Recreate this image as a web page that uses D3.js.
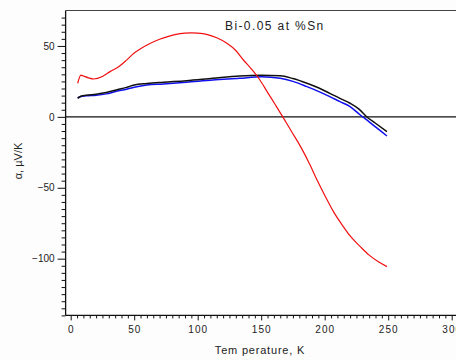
<!DOCTYPE html>
<html><head><meta charset="utf-8">
<script src="https://cdn.jsdelivr.net/npm/d3@7"></script>
<style>
html,body{margin:0;padding:0;background:#fdfdfd;}
svg{display:block;}
text{font-family:"Liberation Sans",Arial,sans-serif;}
</style></head>
<body><svg id="c" width="456" height="360"></svg>
<script>
const redT = [5.5, 8, 10, 14, 18, 25, 31, 38, 44, 50, 55, 62, 70, 77, 83, 90, 95, 100, 107, 115, 123, 130, 136, 142, 149, 155, 161, 167, 174, 181, 188, 194, 201, 207, 214, 220, 228, 235, 242, 249];
const redV = [23.7, 29.5, 28.8, 27.5, 26.7, 28.5, 31.9, 35.5, 40, 45, 48, 51.5, 54.7, 56.8, 58.2, 59, 59.2, 59, 58.2, 55.8, 51.9, 46.8, 40.1, 34, 26, 17.3, 8.7, 0, -10.5, -21, -33, -44.5, -57, -67, -76.5, -84, -91.5, -97.5, -102, -105.6];
const blackT = [5.5, 8, 12, 20, 28, 36, 44, 50, 60, 73, 91, 112, 133, 150, 165, 175, 186, 195, 204, 212, 220, 227, 233, 240, 249];
const blackV = [13.1, 14.5, 15.2, 16, 17.2, 19, 20.8, 22.5, 23.5, 24.4, 25.5, 27.2, 28.8, 29.3, 29, 27, 23.7, 20.5, 16.6, 13, 9.6, 5.5, 0.1, -4.5, -10.4];
const blueT = [5.5, 8, 12, 20, 28, 36, 44, 50, 60, 73, 91, 112, 133, 150, 165, 175, 186, 195, 204, 212, 220, 228, 235, 242, 249];
const blueV = [13.5, 14.3, 14.8, 15.2, 16.2, 18, 19.5, 20.9, 22.5, 23.2, 24.4, 26, 27.2, 28.3, 27.2, 25, 21.3, 18, 14.3, 10.7, 7.2, 1.3, -3.5, -8.5, -13.5];
const xMajor = [0, 50, 100, 150, 200, 250, 300];
const yMajor = [50, 0, -50, -100];
const titleText = "Bi-0.05 at %Sn";
const xTitle = "Tem perature, K";
const yTitle = "α, µV/K";

const svg = d3.select("#c");
const x = d3.scaleLinear().domain([0, 300]).range([70.7, 451.7]);
const y = d3.scaleLinear().domain([-140, 75]).range([315.4, 10.5]);
const xL = x(-4), xR = 456, yB = y(-140), yT = y(75);

svg.append("rect").attr("x", xL).attr("y", yT).attr("width", xR - xL).attr("height", yB - yT).attr("fill", "#fff");

const xMinor = d3.range(0, 305, 5).filter(v => v % 50 !== 0);
const yMinor = d3.range(-140, 75, 5).filter(v => v % 50 !== 0);

const gx = svg.append("g").attr("transform", `translate(0,${yB})`);
gx.call(d3.axisBottom(x).tickValues(xMinor).tickSize(3).tickFormat(""));
gx.select(".domain").remove();
const gx2 = svg.append("g").attr("transform", `translate(0,${yB})`);
gx2.call(d3.axisBottom(x).tickValues(xMajor).tickSize(5).tickPadding(6).tickFormat(d3.format("d")));
gx2.select(".domain").remove();
gx2.selectAll("text").attr("font-size", 10).attr("fill", "#222").style("letter-spacing", "1px");

const gy = svg.append("g").attr("transform", `translate(${xL},0)`);
gy.call(d3.axisLeft(y).tickValues(yMinor).tickSize(4).tickFormat(""));
gy.select(".domain").remove();
const gy2 = svg.append("g").attr("transform", `translate(${xL},0)`);
gy2.call(d3.axisLeft(y).tickValues(yMajor).tickSize(8).tickPadding(3).tickFormat(d3.format("d")));
gy2.select(".domain").remove();
gy2.selectAll("text").attr("font-size", 10).attr("fill", "#222");
svg.selectAll(".tick line").attr("stroke", "#111");

svg.append("line").attr("x1", xL).attr("x2", xR).attr("y1", yB).attr("y2", yB).attr("stroke", "#111").attr("stroke-width", 1.3);
svg.append("line").attr("x1", xL).attr("x2", xL).attr("y1", yT).attr("y2", yB).attr("stroke", "#111").attr("stroke-width", 1.3);
svg.append("line").attr("x1", xL).attr("x2", xR).attr("y1", yT).attr("y2", yT).attr("stroke", "#444").attr("stroke-width", 1);
svg.append("line").attr("x1", xL).attr("x2", xR).attr("y1", y(0)).attr("y2", y(0)).attr("stroke", "#111").attr("stroke-width", 1.2);

const line = d3.line().curve(d3.curveMonotoneX).x(d => x(d[0])).y(d => y(d[1]));
const mk = (T, V) => T.map((t, i) => [t, V[i]]);
svg.append("path").datum(mk(blueT, blueV)).attr("d", line).attr("fill", "none").attr("stroke", "#1010ee").attr("stroke-width", 1.5);
svg.append("path").datum(mk(blackT, blackV)).attr("d", line).attr("fill", "none").attr("stroke", "#111").attr("stroke-width", 1.5);
svg.append("path").datum(mk(redT, redV)).attr("d", line).attr("fill", "none").attr("stroke", "#f01010").attr("stroke-width", 1.2);

svg.append("text").attr("x", 225).attr("y", 30).attr("font-size", 12).attr("fill", "#222").style("letter-spacing", "1.4px").text(titleText);
svg.append("text").attr("x", 260).attr("y", 354).attr("text-anchor", "middle").attr("font-size", 11).attr("fill", "#222").style("letter-spacing", "0.8px").text(xTitle);
svg.append("text").attr("transform", "translate(22,161) rotate(-90)").attr("text-anchor", "middle").attr("font-size", 11).attr("fill", "#222").text(yTitle);
</script></body></html>
